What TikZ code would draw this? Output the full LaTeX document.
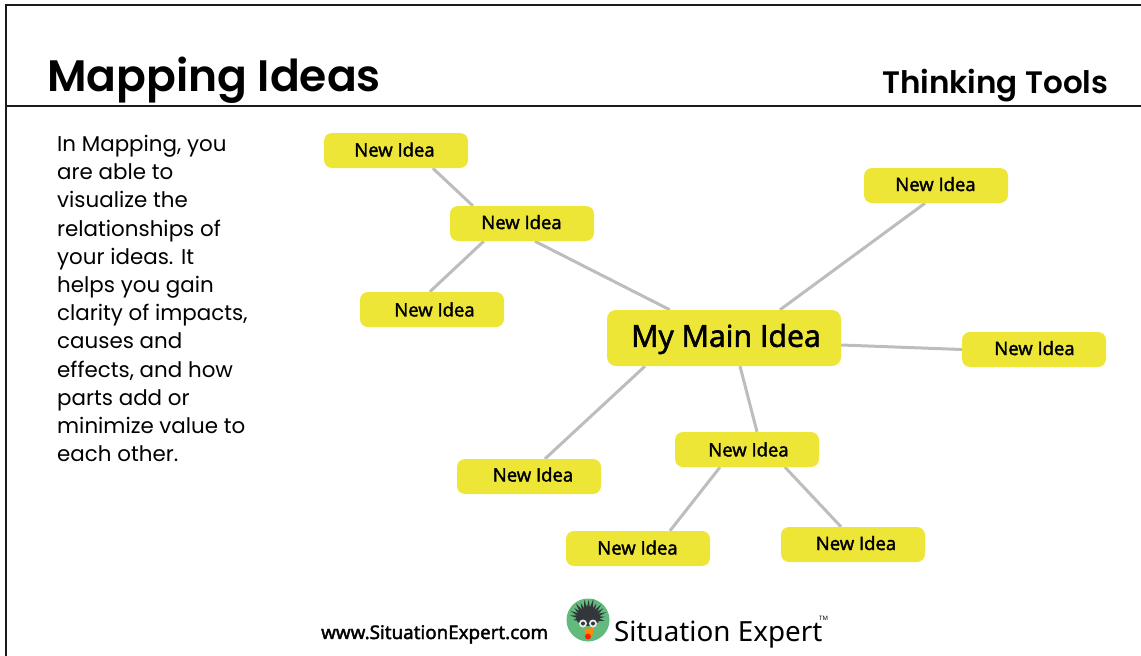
\documentclass[tikz,border=0pt]{standalone}
\usepackage{fontspec}
\setmainfont{Open Sans}
\newfontfamily\headbold{Poppins SemiBold}
\newfontfamily\bodyfont{Poppins}
\newfontfamily\logofont{Noto Sans}
\newfontfamily\urlfont{Noto Sans}[FakeBold=2]
\newfontfamily\nodefont{Open Sans}[FakeBold=2]
\usetikzlibrary{backgrounds}
\definecolor{ideayellow}{HTML}{EDE637}
\definecolor{linkgrey}{HTML}{BDBDBD}
\definecolor{framedark}{HTML}{1A1A1A}
\definecolor{logogreen}{HTML}{62BB7D}
\definecolor{urchin}{HTML}{33363A}
\tikzset{
  x=1pt,y=-1pt,
  idea/.style={fill=ideayellow,rounded corners=8pt,minimum width=144pt,minimum height=35pt,inner sep=0pt,font=\nodefont\fontsize{18.5}{20}\selectfont},
  mainidea/.style={idea,minimum width=234pt,minimum height=56pt,rounded corners=9pt,text height=25pt,font=\nodefont\fontsize{30.3}{32}\selectfont},
  link/.style={draw=linkgrey,line width=3pt},
  frameline/.style={draw=framedark,line width=2.4pt},
}
\begin{document}
\begin{tikzpicture}
\useasboundingbox (0,0) rectangle (1141,656);
\coordinate (frameBL) at (6,656);
\coordinate (frameTL) at (6,5);
\coordinate (frameTR) at (1141,5);
\coordinate (ruleL) at (6,106);
\coordinate (ruleR) at (1141,106);
\draw[frameline] (frameBL) -- (frameTL) -- (frameTR);
\draw[frameline] (ruleL) -- (ruleR);

\node[anchor=base west,inner sep=0pt,font=\headbold\fontsize{44}{46}\selectfont] (title) at (47,91) {Mapping Ideas};
\node[anchor=base east,inner sep=0pt,font=\headbold\fontsize{31}{33}\selectfont] (tools) at (1108.5,93) {Thinking Tools};

\node[anchor=north west,inner sep=0pt,align=left,font=\bodyfont\fontsize{21.4}{28.2}\selectfont] (body) at (57,135) {In Mapping, you\\are able to\\visualize the\\relationships of\\your ideas. It\\helps you gain\\clarity of impacts,\\causes and\\effects, and how\\parts add or\\minimize value to\\each other.};

\node[mainidea] (main) at (724,338) {\hspace{4pt}My Main Idea};
\node[idea,text depth=2pt] (a) at (396,150.5) {\hspace*{-3pt}New Idea};
\node[idea,text depth=3pt] (b) at (522,223.5) {\hspace*{-1pt}New Idea};
\node[idea] (c) at (432,309.5) {\hspace*{5pt}New Idea};
\node[idea,text depth=3pt] (d) at (936,185.5) {\hspace*{-1pt}New Idea};
\node[idea,text depth=3pt] (e) at (1034,349.5) {\hspace*{1pt}New Idea};
\node[idea,text depth=4pt] (f) at (529,476.5) {\hspace*{8pt}New Idea};
\node[idea] (g) at (747,449.5) {\hspace*{3pt}New Idea};
\node[idea,text depth=2pt] (h) at (638,548.5) {\hspace*{-1pt}New Idea};
\node[idea,text depth=3pt] (i) at (853,544.5) {\hspace*{6pt}New Idea};

\begin{scope}[on background layer]
\draw[link] ([xshift=109pt]a.south west) -- ([xshift=23pt]b.north west);
\draw[link] ([xshift=34pt]b.south west) -- ([xshift=70pt]c.north west);
\draw[link] ([xshift=85pt]b.south west) -- ([xshift=63pt]main.north west);
\draw[link] ([xshift=56pt]main.north) -- ([xshift=-11pt]d.south);
\draw[link] ([yshift=-7pt]main.east) -- ([yshift=0pt]e.west);
\draw[link] ([xshift=-79pt]main.south) -- ([xshift=16pt]f.north);
\draw[link] ([xshift=16pt]main.south) -- ([xshift=10pt]g.north);
\draw[link] ([xshift=-27pt]g.south) -- ([xshift=32pt]h.north);
\draw[link] ([xshift=38pt]g.south) -- ([xshift=-12pt]i.north);
\end{scope}

\node[anchor=base west,inner sep=0pt,font=\urlfont\fontsize{18.75}{20}\selectfont] (url) at (321,639) {www.SituationExpert.com};
\node[circle,fill=logogreen,minimum size=43pt,inner sep=0pt] (logo) at (588,620) {};
\foreach \a/\r in {172/18,188/15,158/19,144/17,130/19,116/17,102/19,88/18,74/20,60/17,46/19,32/18,18/19,4/17,-10/17}{
  \fill[urchin] ({588+9*cos(\a-14)},{618-7*sin(\a-14)}) -- ({588+\r*cos(\a)},{618-\r*sin(\a)}) -- ({588+9*cos(\a+14)},{618-7*sin(\a+14)}) -- cycle;
}
\fill[urchin] (588,618) ellipse (12pt and 8pt);
\fill[white!85!gray] (583,623.5) circle (4pt) (593,623.5) circle (4pt);
\fill[urchin] (583,623.5) circle (2pt) (593,623.5) circle (2pt);
\fill[orange!90!yellow] (584,629) -- (594,628) -- (592,636) -- (586,636) -- cycle;
\fill[red!75!orange] (588,636.5) circle (3pt);
\node[anchor=base west,inner sep=0pt,font=\logofont\fontsize{27.8}{30}\selectfont] (brand) at (614,641) {Situation Expert};
\node[anchor=base west,inner sep=0pt,font=\logofont\fontsize{6}{7}\selectfont] (tm) at (819,620) {TM};
\end{tikzpicture}
\end{document}
